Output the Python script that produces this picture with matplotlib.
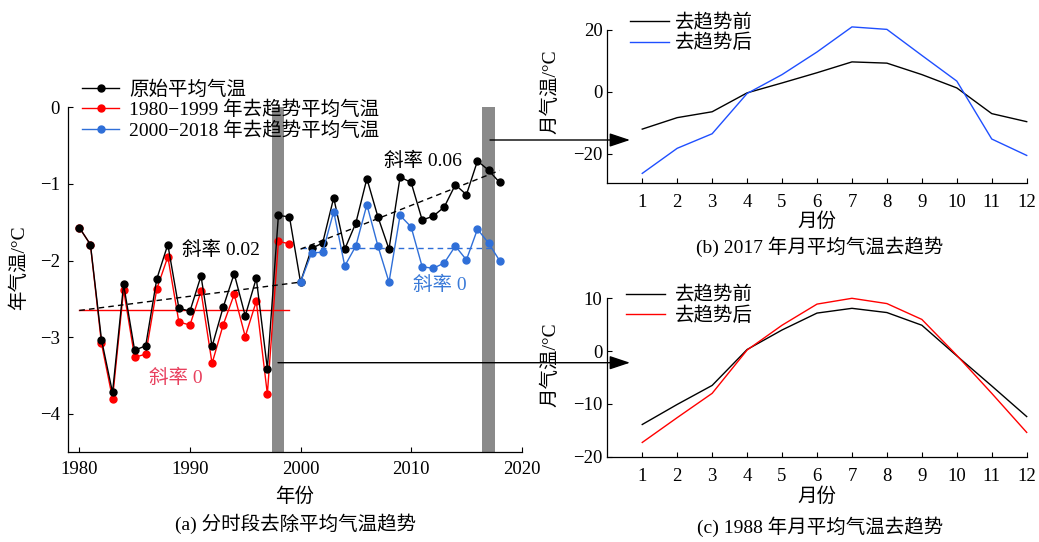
import numpy as np
import matplotlib
matplotlib.use("Agg")
import matplotlib.pyplot as plt

plt.rcParams['font.family'] = ['Liberation Serif', 'Noto Sans CJK SC']
plt.rcParams['font.size'] = 13.5
plt.rcParams['axes.linewidth'] = 0.9
plt.rcParams['xtick.direction'] = 'in'
plt.rcParams['ytick.direction'] = 'in'
plt.rcParams['xtick.major.size'] = 3.5
plt.rcParams['ytick.major.size'] = 3.5

# --- yearly mean temperature (a) ---
years = np.arange(1980, 2019)
raw_temp = [-1.57, -1.79, -3.03, -3.72, -2.31, -3.17, -3.11, -2.24, -1.79, -2.62,
            -2.66, -2.20, -3.12, -2.61, -2.17, -2.72, -2.23, -3.41, -1.41, -1.43,
            -2.28, -1.84, -1.77, -1.18, -1.85, -1.51, -0.93, -1.43, -1.85, -0.91,
            -0.98, -1.47, -1.42, -1.30, -1.01, -1.14, -0.70, -0.82, -0.98]
early_years = np.arange(1980, 2000)
early_detrended = [-1.57, -1.79, -3.08, -3.80, -2.38, -3.26, -3.22, -2.37, -1.95, -2.80,
                   -2.84, -2.40, -3.34, -2.84, -2.44, -2.99, -2.53, -3.74, -1.75, -1.78]
late_years = np.arange(2000, 2019)
late_detrended = [-2.28, -1.90, -1.89, -1.36, -2.07, -1.81, -1.27, -1.81, -2.28, -1.41,
                  -1.56, -2.08, -2.10, -2.03, -1.81, -1.99, -1.59, -1.77, -2.00]
trend_start = [1980, 2000]
trend_end = [2000, 2018]
trend_value0 = [-2.65, -1.85]
trend_slope = [0.0185, 0.057]
detrend_level = [-2.65, -1.84]
highlight_years = [1998, 2017]

# --- monthly mean temperature (b), (c) ---
months = np.arange(1, 13)
m2017_before = [-12.0, -8.3, -6.4, -0.3, 2.9, 6.2, 9.7, 9.3, 5.6, 1.3, -7.0, -9.6]
m2017_after = [-26.3, -18.2, -13.5, -0.5, 5.6, 12.9, 21.0, 20.2, 11.8, 3.5, -15.2, -20.5]
m1988_before = [-13.9, -10.1, -6.5, 0.3, 4.0, 7.2, 8.1, 7.3, 4.9, -0.9, -6.6, -12.4]
m1988_after = [-17.3, -12.6, -8.0, 0.2, 4.9, 8.9, 10.0, 9.0, 6.0, -0.8, -8.0, -15.4]

W, H = 1039, 542
fig = plt.figure(figsize=(W / 100, H / 100), dpi=100)


def px_axes(x0, y0, x1, y1):
    return fig.add_axes([x0 / W, 1 - y1 / H, (x1 - x0) / W, (y1 - y0) / H])


def clean(ax):
    ax.spines['top'].set_visible(False)
    ax.spines['right'].set_visible(False)


RED = '#ff0000'
BLUE = '#2f6fd8'

ax = px_axes(68.3, 107.3, 521.7, 452.3)
clean(ax)
for y in highlight_years:
    ax.axvspan(y - 0.55, y + 0.55, color='#8a8a8a', lw=0, zorder=0)
ax.plot(early_years, early_detrended, color=RED, lw=1.0, marker='o', ms=5,
        label='1980−1999 年去趋势平均气温', zorder=2)
ax.plot(years, raw_temp, color='black', lw=1.0, marker='o', ms=5,
        label='原始平均气温', zorder=3)
ax.plot(late_years, late_detrended, color=BLUE, lw=1.0, marker='o', ms=5,
        label='2000−2018 年去趋势平均气温', zorder=4)
for s, e, v0, k, lvl, c in zip(trend_start, trend_end, trend_value0, trend_slope,
                               detrend_level, [RED, BLUE]):
    xs = np.array([s, e])
    ax.plot(xs, v0 + k * (xs - s), color='black', lw=1.0, ls=(0, (4, 3)), zorder=5)
    if c == RED:
        ax.plot([s, e - 1], [lvl, lvl], color=c, lw=1.0, zorder=1)
    else:
        ax.plot([s, e - 0.4], [lvl, lvl], color=c, lw=1.0, ls=(0, (4, 3)), zorder=1)

ax.text(1992.8, -1.86, '斜率 0.02', ha='center', va='center', fontsize=14)
ax.text(1988.7, -3.53, '斜率 0', ha='center', va='center', fontsize=14, color='#e8405e')
ax.text(2011.1, -0.70, '斜率 0.06', ha='center', va='center', fontsize=14)
ax.text(2012.6, -2.32, '斜率 0', ha='center', va='center', fontsize=14, color='#3a7ad8')

ax.set_xlim(1979, 2020)
ax.set_ylim(-4.5, 0)
ax.set_xticks([1980, 1990, 2000, 2010, 2020])
ax.set_yticks([0, -1, -2, -3, -4])
ax.tick_params(pad=6)

h, l = ax.get_legend_handles_labels()
order = [1, 0, 2]
ax.legend([h[i] for i in order], [l[i] for i in order], loc='upper left',
          bbox_to_anchor=(0.031, 1.078), frameon=False, fontsize=14,
          handlelength=1.9, handletextpad=0.5, labelspacing=0.1,
          borderaxespad=0, borderpad=0)

fig.text(19 / W, 1 - 268 / H, '年气温/°C', rotation=90, ha='center', va='center', fontsize=14)
fig.text(295 / W, 1 - 497 / H, '年份', ha='center', va='center', fontsize=14)
fig.text(296 / W, 1 - 524 / H, '(a) 分时段去除平均气温趋势', ha='center', va='center', fontsize=14)

# --- (b) 2017 ---
axb = px_axes(607.3, 30, 1026.7, 183.3)
clean(axb)
axb.plot(months, m2017_before, color='black', lw=1.0, label='去趋势前', clip_on=False)
axb.plot(months, m2017_after, color='#1f4fff', lw=1.0, label='去趋势后', clip_on=False)
axb.set_xlim(0, 12)
axb.set_ylim(-29.5, 20)
axb.set_xticks(months)
axb.set_yticks([20, 0, -20])
axb.tick_params(axis='x', pad=8)
axb.legend(loc='upper left', bbox_to_anchor=(0.055, 1.105), frameon=False, fontsize=14,
           handlelength=2.0, handletextpad=0.3, labelspacing=0.1,
           borderaxespad=0, borderpad=0)
fig.text(550 / W, 1 - 92 / H, '月气温/°C', rotation=90, ha='center', va='center', fontsize=14)
fig.text(817 / W, 1 - 222 / H, '月份', ha='center', va='center', fontsize=14)
fig.text(820 / W, 1 - 247 / H, '(b) 2017 年月平均气温去趋势', ha='center', va='center', fontsize=14)

# --- (c) 1988 ---
axc = px_axes(607.3, 298.3, 1026.7, 456.7)
clean(axc)
axc.plot(months, m1988_before, color='black', lw=1.0, label='去趋势前', clip_on=False)
axc.plot(months, m1988_after, color=RED, lw=1.0, label='去趋势后', clip_on=False)
axc.set_xlim(0, 12)
axc.set_ylim(-20, 10)
axc.set_xticks(months)
axc.set_yticks([10, 0, -10, -20])
axc.tick_params(axis='x', pad=8)
axc.legend(loc='upper left', bbox_to_anchor=(0.045, 1.075), frameon=False, fontsize=14,
           handlelength=2.0, handletextpad=0.5, labelspacing=0.1,
           borderaxespad=0, borderpad=0)
fig.text(550 / W, 1 - 365 / H, '月气温/°C', rotation=90, ha='center', va='center', fontsize=14)
fig.text(817 / W, 1 - 497 / H, '月份', ha='center', va='center', fontsize=14)
fig.text(820 / W, 1 - 527 / H, '(c) 1988 年月平均气温去趋势', ha='center', va='center', fontsize=14)

# arrows from the highlighted years to the monthly panels
for x0, y0 in [(490, 140), (278, 362.7)]:
    fig.add_artist(matplotlib.patches.FancyArrowPatch(
        (x0 / W, 1 - y0 / H), (630 / W, 1 - y0 / H), transform=fig.transFigure,
        arrowstyle='-|>,head_length=0.9,head_width=0.3', mutation_scale=14,
        color='black', lw=1.0, shrinkA=0, shrinkB=0))

fig.savefig('out.png', dpi=100)
